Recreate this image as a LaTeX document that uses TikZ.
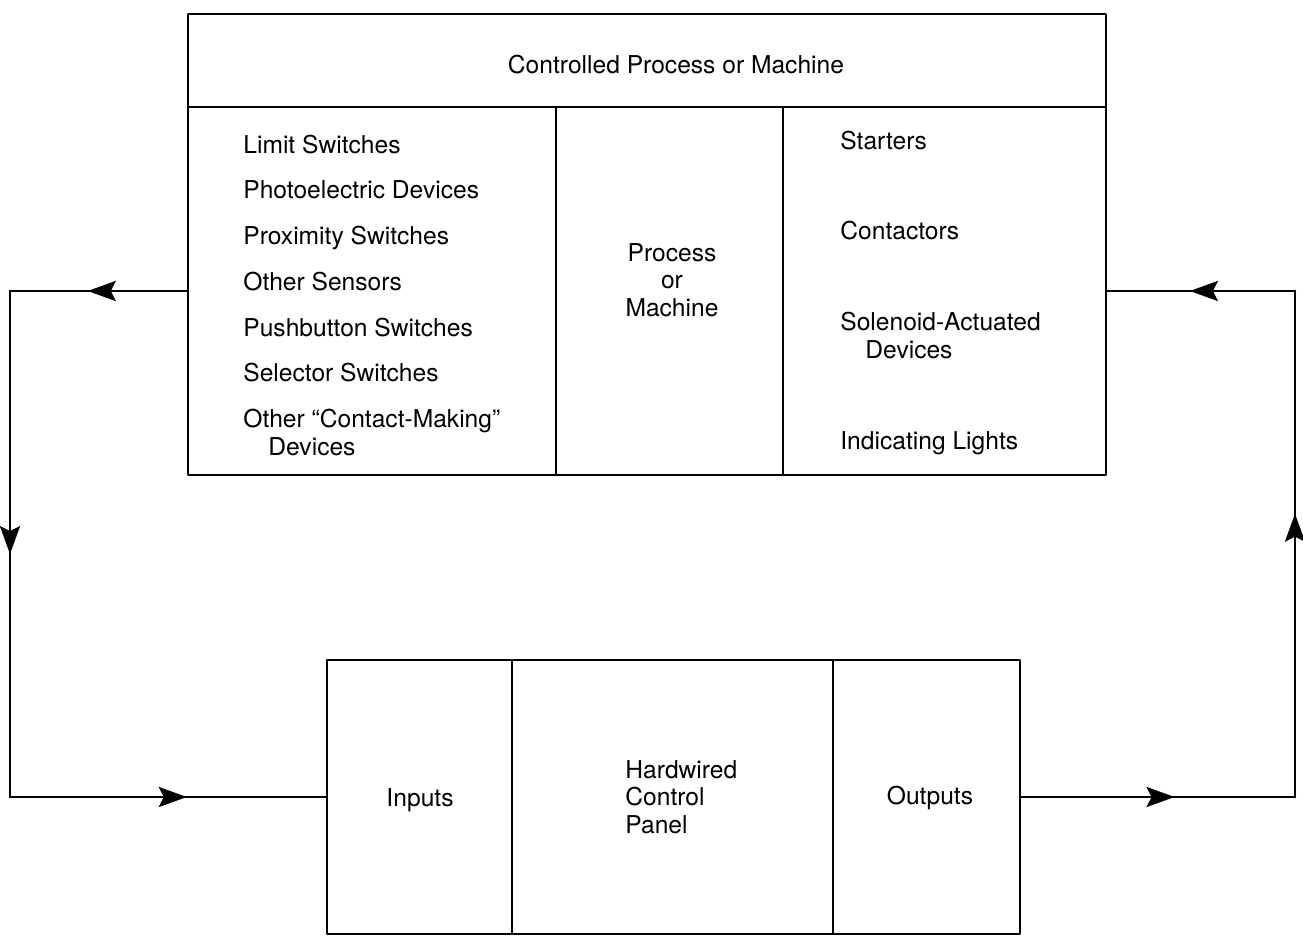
\documentclass[tikz,border=0pt]{standalone}
\usepackage{fontspec}
\setmainfont{TeX Gyre Heros}
\usetikzlibrary{arrows.meta,decorations.markings}

\tikzset{
  cell/.style={draw, line width=1.3pt, inner sep=0pt},
  lbl/.style={inner sep=0pt, font=\fontsize{12.3}{13.8}\selectfont},
  flow/.style={line width=1.3pt, postaction={decorate},
    decoration={markings, mark=at position #1 with {\arrow{Stealth[length=14pt,width=10pt,inset=2.5pt]}}}},
  flow/.default=0.56,
}

\begin{document}
\begin{tikzpicture}[line cap=round, line join=round, x=0.5pt, y=-0.5pt]

            \useasboundingbox (0,0) rectangle (1303,938);

            % controlled process or machine
            \node[cell, minimum width=459pt, minimum height=46.5pt] (head) at (647,60.5) {};
            \node[cell, minimum width=184pt, minimum height=184pt] (sens) at (372,291) {};
            \node[cell, minimum width=113.5pt, minimum height=184pt] (mach) at (669.5,291) {};
            \node[cell, minimum width=161.5pt, minimum height=184pt] (act) at (944.5,291) {};

            \node[lbl] (headtxt) at (676,65) {Controlled Process or Machine};

            \node[lbl, anchor=base west] (ls) at (243,153) {Limit Switches};
            \node[lbl, anchor=base west] (pe) at (243,198) {Photoelectric Devices};
            \node[lbl, anchor=base west] (px) at (243,244) {Proximity Switches};
            \node[lbl, anchor=base west] (os) at (243,290) {Other Sensors};
            \node[lbl, anchor=base west] (pb) at (243,336) {Pushbutton Switches};
            \node[lbl, anchor=base west] (ss) at (243,381) {Selector Switches};
            \node[lbl, anchor=base west] (cm) at (243,427) {Other ``Contact-Making''};
            \node[lbl, anchor=base west] (cmd) at (268,455) {Devices};

            \node[lbl, align=center] (machtxt) at (672,280) {Process\\or\\Machine};

            \node[lbl, anchor=base west] (st) at (840,149) {Starters};
            \node[lbl, anchor=base west] (ct) at (840,239) {Contactors};
            \node[lbl, anchor=base west] (sa) at (840,330) {Solenoid-Actuated};
            \node[lbl, anchor=base west] (sad) at (865,358) {Devices};
            \node[lbl, anchor=base west] (il) at (840,449) {Indicating Lights};

            % hardwired control panel
            \node[cell, minimum width=92.5pt, minimum height=137pt] (inp) at (419.5,797) {};
            \node[cell, minimum width=160.5pt, minimum height=137pt] (panel) at (672.5,797) {};
            \node[cell, minimum width=93.5pt, minimum height=137pt] (out) at (926.5,797) {};

            \node[lbl] (inptxt) at (420,800) {Inputs};
            \node[lbl, align=left, anchor=west] (paneltxt) at (625,797) {Hardwired\\Control\\Panel};
            \node[lbl] (outtxt) at (930,798) {Outputs};

            % feedback loops
            \coordinate (lt) at (10,291);
            \coordinate (lb) at (10,797);
            \coordinate (rb) at (1295,797);
            \coordinate (rt) at (1295,291);

            \draw[flow] (sens.west) -- (lt);
            \draw[flow=0.52] (lt) -- (lb);
            \draw[flow] (lb) -- (inp.west);

            \draw[flow] (out.east) -- (rb);
            \draw[flow] (rb) -- (rt);
            \draw[flow] (rt) -- (act.east);

        \end{tikzpicture}
\end{document}
